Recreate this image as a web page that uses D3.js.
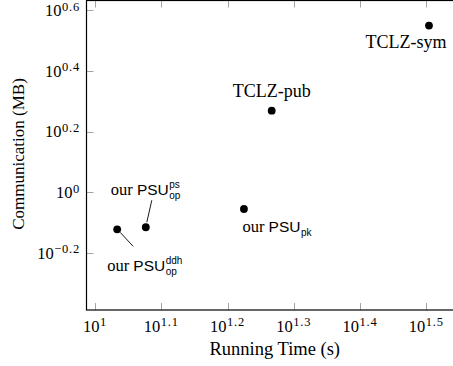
<!DOCTYPE html>
<html>
<head>
<meta charset="utf-8">
<script src="https://cdn.jsdelivr.net/npm/d3@7.9.0/dist/d3.min.js"></script>
<style>
  html, body { margin: 0; padding: 0; background: #fff; overflow: hidden; }
  svg { display: block; }
  text { fill: #000; }
</style>
</head>
<body>
<svg id="chart" width="453" height="366"></svg>
<script>
// data (log-log scatter)
const labels = ['our PSU', 'our PSU', 'our PSU', 'TCLZ-pub', 'TCLZ-sym'];
const labelSub = ['op', 'op', 'pk', '', ''];
const labelSup = ['ddh', 'ps', '', '', ''];
const runningTime = [10.80, 11.93, 16.78, 18.48, 31.93];   // s
const communication = [0.755, 0.767, 0.881, 1.858, 3.542]; // MB

const xTickExps = [1, 1.1, 1.2, 1.3, 1.4, 1.5];
const yTickExps = [-0.2, 0, 0.2, 0.4, 0.6];
const xTitle = 'Running Time (s)';
const yTitle = 'Communication (MB)';

const SERIF = '"Liberation Serif", "DejaVu Serif", serif';
const SANS = '"Liberation Sans", "DejaVu Sans", sans-serif';

const plot = { left: 86.5, right: 460, top: 0.5, bottom: 310 };
const tickLen = 7;

const svg = d3.select('#chart');

const x = d3.scaleLog()
  .domain([10 ** 0.9871, 10 ** 1.551])
  .range([plot.left, plot.right]);
const y = d3.scaleLog()
  .domain([10 ** -0.3878, 10 ** 0.632])
  .range([plot.bottom, plot.top]);

const fmtExp = e => (e < 0 ? '\u2212' : '') + String(Math.abs(+e.toFixed(1)));

// ticks (inward, on both sides)
const ticks = svg.append('g').attr('stroke', '#9a9a9a').attr('stroke-width', 0.9);
xTickExps.forEach(e => {
  const px = Math.round(x(10 ** e)) + 0.5;
  ticks.append('line').attr('x1', px).attr('x2', px).attr('y1', plot.bottom).attr('y2', plot.bottom - tickLen);
  ticks.append('line').attr('x1', px).attr('x2', px).attr('y1', plot.top).attr('y2', plot.top + tickLen);
});
yTickExps.forEach(e => {
  const py = Math.round(y(10 ** e)) + 0.5;
  ticks.append('line').attr('y1', py).attr('y2', py).attr('x1', plot.left).attr('x2', plot.left + tickLen);
  ticks.append('line').attr('y1', py).attr('y2', py).attr('x1', plot.right).attr('x2', plot.right - tickLen);
});

// frame
svg.append('rect')
  .attr('x', plot.left).attr('y', plot.top)
  .attr('width', plot.right - plot.left).attr('height', plot.bottom - plot.top)
  .attr('fill', 'none').attr('stroke', '#000').attr('stroke-width', 1.2);

// tick labels: 10^e
function powerLabel(sel, e) {
  sel.append('tspan').attr('font-size', 16.5).text('10');
  sel.append('tspan').attr('font-size', 12.5).attr('letter-spacing', 0.8)
    .attr('dx', 0.5).attr('dy', -5.5).text(fmtExp(e));
}
xTickExps.forEach(e => {
  const t = svg.append('text').attr('font-family', SERIF)
    .attr('x', x(10 ** e)).attr('y', plot.bottom + 21.5)
    .attr('text-anchor', 'middle');
  powerLabel(t, e);
});
yTickExps.forEach(e => {
  const t = svg.append('text').attr('font-family', SERIF)
    .attr('x', 80).attr('y', y(10 ** e) + 5.8)
    .attr('text-anchor', 'end');
  powerLabel(t, e);
});

// axis titles
svg.append('text').attr('font-family', SERIF)
  .attr('x', (plot.left + plot.right) / 2 + 1.5).attr('y', 354.5)
  .attr('text-anchor', 'middle').attr('font-size', 18.5)
  .text(xTitle);
svg.append('text').attr('font-family', SERIF)
  .attr('transform', 'translate(24,154) rotate(-90)')
  .attr('text-anchor', 'middle').attr('font-size', 17)
  .text(yTitle);

// points
const pts = labels.map((l, i) => ({
  label: l, sub: labelSub[i], sup: labelSup[i],
  px: x(runningTime[i]), py: y(communication[i])
}));

svg.append('g').selectAll('circle').data(pts).join('circle')
  .attr('cx', d => d.px).attr('cy', d => d.py).attr('r', 3.9)
  .attr('fill', '#000');

// label placement: text start offset from point, optional leader line
const place = [
  { dx: -10, dy: 42, lead: [[3, 3], [16, 17]] },
  { dx: -35, dy: -32, lead: [[1, -5], [6, -27]] },
  { dx: -1.5, dy: 23 },
  { dx: 0, dy: -14, mid: true },
  { dx: -23, dy: 22, mid: true }
];

pts.forEach((d, i) => {
  const p = place[i];
  const bx = d.px + p.dx, by = d.py + p.dy;
  if (!d.sub) {
    svg.append('text').attr('font-family', SERIF)
      .attr('x', bx).attr('y', by)
      .attr('text-anchor', p.mid ? 'middle' : 'start')
      .attr('font-size', 18)
      .text(d.label);
  } else {
    const [w1, w2] = d.label.split(' ');
    const t = svg.append('text').attr('x', bx).attr('y', by);
    t.append('tspan').attr('font-family', SERIF).attr('font-size', 16.5).text(w1 + ' ');
    t.append('tspan').attr('font-family', SANS).attr('font-size', 15.5).text(w2);
    const w = t.node().getComputedTextLength();
    svg.append('text').attr('font-family', SANS).attr('font-size', 10)
      .attr('x', bx + w + 0.5).attr('y', by + 3.5).text(d.sub);
    if (d.sup) {
      svg.append('text').attr('font-family', SANS).attr('font-size', 10)
        .attr('x', bx + w + 0.5).attr('y', by - 7).text(d.sup);
    }
  }
  if (p.lead) {
    svg.append('line')
      .attr('x1', d.px + p.lead[0][0]).attr('y1', d.py + p.lead[0][1])
      .attr('x2', d.px + p.lead[1][0]).attr('y2', d.py + p.lead[1][1])
      .attr('stroke', '#000').attr('stroke-width', 0.9);
  }
});
</script>
</body>
</html>
